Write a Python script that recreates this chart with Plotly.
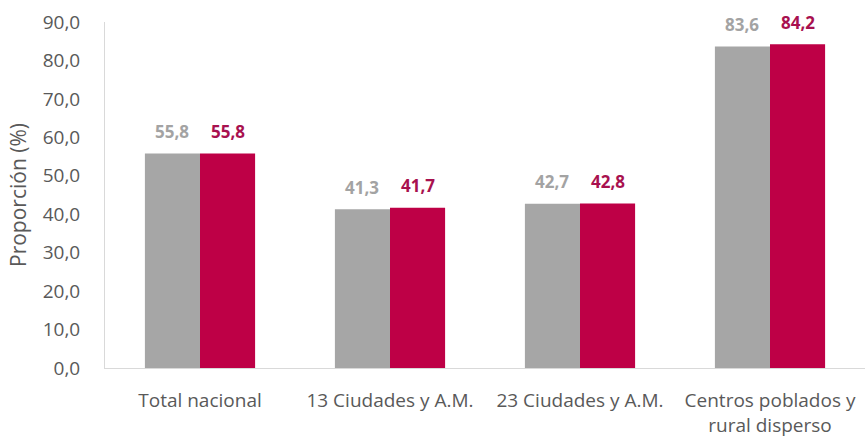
import plotly.graph_objects as go

categories = ["Total nacional", "13 Ciudades y A.M.", "23 Ciudades y A.M.", "Centros poblados y<br>rural disperso"]
serie_a = [55.8, 41.3, 42.7, 83.6]
serie_b = [55.8, 41.7, 42.8, 84.2]
y_ticks = [0, 10, 20, 30, 40, 50, 60, 70, 80, 90]

gray = "#a6a6a6"
red = "#be0046"
bargap = 0.42

fig = go.Figure()
fig.add_trace(go.Bar(x=list(range(len(categories))), y=serie_a, marker_color=gray, marker_line_width=0, name="A"))
fig.add_trace(go.Bar(x=list(range(len(categories))), y=serie_b, marker_color=red, marker_line_width=0, name="B"))

off = (1 - bargap) / 4
font = "Open Sans, Lato, sans-serif"
ann = []
for i, (a, b) in enumerate(zip(serie_a, serie_b)):
    ann.append(dict(x=i - off, y=a, text=f"<b>{a:.1f}</b>".replace(".", ","), showarrow=False,
                    yshift=22, font=dict(family=font, size=17, color="#a3a3a3")))
    ann.append(dict(x=i + off, y=b, text=f"<b>{b:.1f}</b>".replace(".", ","), showarrow=False,
                    yshift=22, font=dict(family=font, size=17, color="#a8114f")))
ann.append(dict(xref="paper", yref="paper", x=0, y=0.5, xshift=-87, xanchor="center", yanchor="middle",
                textangle=-90, text="Proporción (%)", showarrow=False,
                font=dict(family=font, size=21, color="#595959")))

fig.update_layout(
    width=866, height=437,
    margin=dict(l=105, r=1, t=22, b=69),
    paper_bgcolor="white", plot_bgcolor="white",
    barmode="group", bargap=bargap, bargroupgap=0,
    showlegend=False,
    separators=",.",
    font=dict(family=font, size=19, color="#595959"),
    annotations=ann,
    xaxis=dict(tickmode="array", tickvals=list(range(len(categories))), ticktext=categories,
               range=[-0.5, len(categories) - 0.5], showline=True, linecolor="#d9d9d9", linewidth=1,
               ticks="", showgrid=False, tickfont=dict(size=19, color="#595959"),
               ticklabelstandoff=15, automargin=False),
    yaxis=dict(range=[0, 90], tickvals=y_ticks, tickformat=".1f", showgrid=False,
               showline=True, linecolor="#d9d9d9", linewidth=1, ticks="",
               tickfont=dict(size=19, color="#595959"), ticklabelstandoff=20, automargin=False),
)
fig.write_html("out.html", config={"displayModeBar": False},
               post_script="document.body.style.margin='0';document.body.style.overflow='hidden';")
